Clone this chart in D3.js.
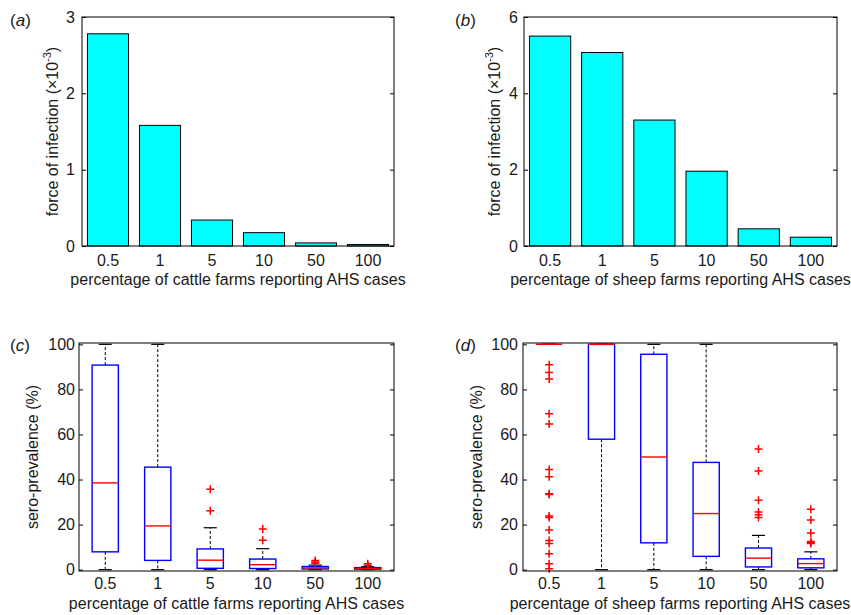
<!DOCTYPE html>
<html><head><meta charset="utf-8">
<script src="https://cdn.jsdelivr.net/npm/d3@7"></script>
<style>
html,body{margin:0;padding:0;background:#fff;}
text{font-family:"Liberation Sans",Arial,sans-serif;fill:#1a1a1a;}
</style></head>
<body><svg id="chart" width="851" height="615"></svg>
<script>
// ---------- data ----------
const categories = ["0.5","1","5","10","50","100"];
const cattleForce = [2.78, 1.58, 0.34, 0.175, 0.04, 0.02];
const sheepForce = [5.50, 5.07, 3.30, 1.96, 0.45, 0.23];
const forceTicksA = [0,1,2,3];
const forceTicksB = [0,2,4,6];
const seroTicks = [0,20,40,60,80,100];

const cattleWhiskerLow = [0, 0, 0, 0, 0, 0];
const cattleQ1 = [7.9, 4.1, 0.6, 0.5, 0.3, 0.2];
const cattleMedian = [38.5, 19.4, 4.2, 2.2, 0.8, 0.5];
const cattleQ3 = [90.8, 45.5, 9.2, 4.7, 1.4, 0.9];
const cattleWhiskerHigh = [100, 100, 18.6, 9.3, 2.0, 1.3];
const cattleOutliers = [[], [], [35.7, 26.1], [18.0, 13.1], [4.1, 3.4, 2.8], [2.6, 1.9]];

const sheepWhiskerLow = [100, 0, 0, 0, 0, 0];
const sheepQ1 = [100, 57.9, 11.9, 5.9, 1.2, 0.8];
const sheepMedian = [100, 100, 50.0, 24.9, 5.1, 2.7];
const sheepQ3 = [100, 100, 95.6, 47.6, 9.6, 4.8];
const sheepWhiskerHigh = [100, 100, 100, 100, 15.2, 7.9];
const sheepOutliers = [
  [90.9, 87.5, 84.6, 69.2, 64.7, 44.4, 41.2, 33.7, 33.3, 23.8, 23.1, 17.6, 12.9, 11.6, 7.1, 2.6, 0.4],
  [], [], [],
  [53.6, 43.8, 30.8, 25.6, 24.4, 23.1],
  [26.8, 22.0, 16.3, 12.5, 11.9, 11.6]
];

// ---------- drawing ----------
const svg = d3.select("#chart");
const FS = 16;

function frame(g, x0, x1, y0, y1, yScale, ticks, tickFmt, pad) {
  g.append("rect").attr("x", x0).attr("y", y0).attr("width", x1 - x0).attr("height", y1 - y0)
    .attr("fill", "none").attr("stroke", "#000").attr("stroke-width", 1);
  const left = d3.axisLeft(yScale).tickValues(ticks).tickSize(-4).tickPadding(pad).tickFormat(tickFmt);
  const la = g.append("g").attr("transform", `translate(${x0},0)`).call(left);
  la.select(".domain").remove();
  la.selectAll("text").attr("font-size", FS).attr("font-family", null).style("fill", "#1a1a1a");
  la.selectAll("line").attr("stroke", "#000");
  const right = d3.axisRight(yScale).tickValues(ticks).tickSize(-4).tickFormat("");
  const ra = g.append("g").attr("transform", `translate(${x1},0)`).call(right);
  ra.select(".domain").remove();
  ra.selectAll("line").attr("stroke", "#000");
}

function xLabels(g, xs, yPos, title, titleY) {
  g.selectAll("text.xt").data(categories).join("text").attr("class", "xt")
    .attr("x", d => xs(d)).attr("y", yPos).attr("text-anchor", "middle")
    .attr("font-size", FS).text(d => d);
  g.append("text").attr("x", (xs.range()[0] + xs.range()[1]) / 2).attr("y", titleY)
    .attr("text-anchor", "middle").attr("font-size", FS).text(title);
}

function yTitle(g, x, y, parts) {
  const t = g.append("text").attr("transform", `translate(${x},${y}) rotate(-90)`)
    .attr("text-anchor", "middle").attr("font-size", FS);
  parts(t);
}

function panelLabel(g, x, y, letter) {
  const t = g.append("text").attr("x", x).attr("y", y).attr("font-size", 17);
  t.append("tspan").text("(");
  t.append("tspan").attr("font-style", "italic").text(letter);
  t.append("tspan").text(")");
}

function forceTitle(t) {
  t.append("tspan").text("force of infection (×10");
  t.append("tspan").attr("dy", -7).attr("font-size", 11).text("-3");
  t.append("tspan").attr("dy", 7).text(")");
}

function barPanel(x0, x1, y0, y1, values, ymax, ticks, label, xtitle, ytx, lx, pad) {
  const g = svg.append("g");
  const xs = d3.scaleBand().domain(categories).range([x0, x1]).paddingInner(0.21).paddingOuter(0.105);
  const ys = d3.scaleLinear().domain([0, ymax]).range([y1, y0]);
  g.selectAll("rect.bar").data(values).join("rect").attr("class", "bar")
    .attr("x", (d, i) => xs(categories[i])).attr("width", xs.bandwidth())
    .attr("y", d => ys(d)).attr("height", d => ys(0) - ys(d))
    .attr("fill", "#00ffff").attr("stroke", "#000").attr("stroke-width", 1);
  frame(g, x0, x1, y0, y1, ys, ticks, d3.format("d"), pad);
  const xc = d3.scalePoint().domain(categories).range([x0, x1]).padding(0.5);
  xLabels(g, xc, y1 + 20, xtitle, y1 + 39);
  yTitle(g, ytx, (y0 + y1) / 2, forceTitle);
  panelLabel(g, lx, y0 + 9, label);
}

function boxPanel(x0, x1, y0, y1, wl, q1, med, q3, wh, outs, label, xtitle, ytx, lx, pad) {
  const g = svg.append("g");
  const xs = d3.scalePoint().domain(categories).range([x0, x1]).padding(0.5);
  const ys = d3.scaleLinear().domain([-0.6, 100.6]).range([y1, y0]);
  const bw = xs.step() * 0.5;
  const cw = bw * 0.5;
  categories.forEach((c, i) => {
    const cx = xs(c);
    g.append("line").attr("x1", cx).attr("x2", cx).attr("y1", ys(q3[i])).attr("y2", ys(wh[i]))
      .attr("stroke", "#000").attr("stroke-width", 1).attr("stroke-dasharray", "3,2");
    g.append("line").attr("x1", cx).attr("x2", cx).attr("y1", ys(q1[i])).attr("y2", ys(wl[i]))
      .attr("stroke", "#000").attr("stroke-width", 1).attr("stroke-dasharray", "3,2");
    [wl[i], wh[i]].forEach(v => {
      g.append("line").attr("x1", cx - cw / 2).attr("x2", cx + cw / 2).attr("y1", ys(v)).attr("y2", ys(v))
        .attr("stroke", "#000").attr("stroke-width", 1.2);
    });
    g.append("rect").attr("x", cx - bw / 2).attr("width", bw)
      .attr("y", ys(q3[i])).attr("height", Math.max(0, ys(q1[i]) - ys(q3[i])))
      .attr("fill", "none").attr("stroke", "#0000ff").attr("stroke-width", 1.4);
    g.append("line").attr("x1", cx - bw / 2).attr("x2", cx + bw / 2)
      .attr("y1", ys(med[i])).attr("y2", ys(med[i]))
      .attr("stroke", "#ff0000").attr("stroke-width", 1.4);
    outs[i].forEach(v => {
      const y = ys(v), s = 4;
      g.append("path").attr("d", `M${cx - s},${y}H${cx + s}M${cx},${y - s}V${y + s}`)
        .attr("stroke", "#ff0000").attr("stroke-width", 1.5).attr("fill", "none");
    });
  });
  frame(g, x0, x1, y0, y1, ys, seroTicks, d3.format("d"), pad);
  xLabels(g, xs, y1 + 18, xtitle, y1 + 38);
  yTitle(g, ytx, (y0 + y1) / 2, t => t.text("sero-prevalence (%)"));
  panelLabel(g, lx, y0 + 8, label);
}

barPanel(82, 394, 17, 246, cattleForce, 3, forceTicksA, "a",
  "percentage of cattle farms reporting AHS cases", 58, 10, 7);
barPanel(524, 837, 17, 246, sheepForce, 6, forceTicksB, "b",
  "percentage of sheep farms reporting AHS cases", 500, 455, 6);
boxPanel(79, 394, 343, 571, cattleWhiskerLow, cattleQ1, cattleMedian, cattleQ3, cattleWhiskerHigh, cattleOutliers, "c",
  "percentage of cattle farms reporting AHS cases", 38, 10, 4);
boxPanel(523, 837, 343, 571, sheepWhiskerLow, sheepQ1, sheepMedian, sheepQ3, sheepWhiskerHigh, sheepOutliers, "d",
  "percentage of sheep farms reporting AHS cases", 482, 455, 5);
</script></body></html>
